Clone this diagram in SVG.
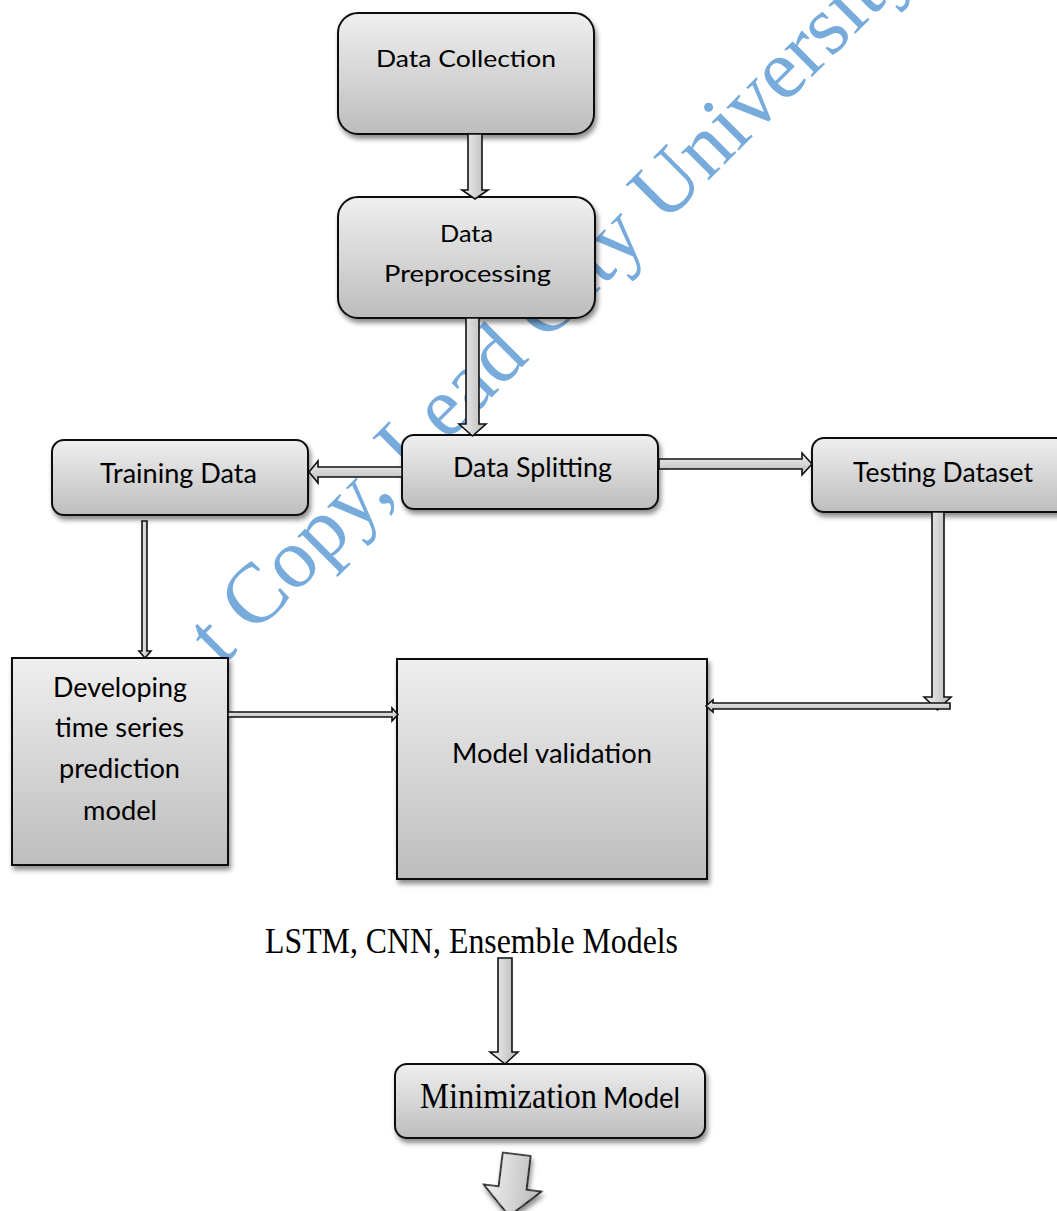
<svg xmlns="http://www.w3.org/2000/svg" width="1057" height="1211" viewBox="0 0 1057 1211">
<defs>
<linearGradient id="gBox" x1="0" y1="0" x2="0" y2="1">
<stop offset="0" stop-color="#efefef"/>
<stop offset="1" stop-color="#bdbdbd"/>
</linearGradient>
<linearGradient id="gArrV" x1="0" y1="0" x2="1" y2="0">
<stop offset="0" stop-color="#f2f2f2"/>
<stop offset="1" stop-color="#b8b8b8"/>
</linearGradient>
<linearGradient id="gArrH" x1="0" y1="0" x2="0" y2="1">
<stop offset="0" stop-color="#f2f2f2"/>
<stop offset="1" stop-color="#b8b8b8"/>
</linearGradient>
<filter id="shadow" x="-10%" y="-10%" width="130%" height="140%">
<feDropShadow dx="2" dy="4" stdDeviation="2.5" flood-color="#000" flood-opacity="0.45"/>
</filter>
</defs>
<style>
.box{fill:url(#gBox);stroke:#111;stroke-width:2;filter:url(#shadow)}
.lbl{font-family:Lato,"Open Sans",sans-serif;fill:#000}
.serif{font-family:"Liberation Serif","Times New Roman",serif;fill:#000}
.av{fill:url(#gArrV);stroke:#111;stroke-width:1.6;stroke-linejoin:miter}
.ah{fill:url(#gArrH);stroke:#111;stroke-width:1.6;stroke-linejoin:miter}
.wm{font-family:"Liberation Serif","Times New Roman",serif;fill:#77abdc}
</style>
<rect width="1057" height="1211" fill="#fff"/>
<text class="wm" font-size="85" transform="translate(222,667) rotate(-45)">t Copy, Lead City University</text>

<g id="node-data-collection">
<rect class="box" x="338" y="13" width="256" height="121" rx="20"/>
<text class="lbl" font-size="23" x="376" y="67" textLength="180" lengthAdjust="spacingAndGlyphs">Data Collection</text>
</g>
<g id="node-data-preprocessing">
<rect class="box" x="338" y="197" width="257" height="121" rx="20"/>
<text class="lbl" font-size="23" x="440" y="242" textLength="53" lengthAdjust="spacingAndGlyphs">Data</text>
<text class="lbl" font-size="23" x="384" y="282" textLength="167" lengthAdjust="spacingAndGlyphs">Preprocessing</text>
</g>
<g id="node-training-data">
<rect class="box" x="52" y="440" width="256" height="75" rx="12"/>
<text class="lbl" font-size="26" x="100" y="483" textLength="157" lengthAdjust="spacingAndGlyphs">Training Data</text>
</g>
<g id="node-data-splitting">
<rect class="box" x="402" y="435" width="256" height="74" rx="12"/>
<text class="lbl" font-size="26" x="453" y="477" textLength="159" lengthAdjust="spacingAndGlyphs">Data Splitting</text>
</g>
<g id="node-testing-dataset">
<rect class="box" x="812" y="438" width="260" height="74" rx="12"/>
<text class="lbl" font-size="26" x="853" y="482" textLength="180" lengthAdjust="spacingAndGlyphs">Testing Dataset</text>
</g>
<g id="node-developing-model">
<rect class="box" x="12" y="658" width="216" height="207"/>
<text class="lbl" font-size="26" x="53" y="697" textLength="134" lengthAdjust="spacingAndGlyphs">Developing</text>
<text class="lbl" font-size="26" x="55" y="737" textLength="129" lengthAdjust="spacingAndGlyphs">time series</text>
<text class="lbl" font-size="26" x="59" y="778" textLength="121" lengthAdjust="spacingAndGlyphs">prediction</text>
<text class="lbl" font-size="26" x="83" y="820" textLength="74" lengthAdjust="spacingAndGlyphs">model</text>
</g>
<g id="node-model-validation">
<rect class="box" x="397" y="659" width="310" height="220"/>
<text class="lbl" font-size="27" x="452" y="763" textLength="200" lengthAdjust="spacingAndGlyphs">Model validation</text>
</g>
<g id="node-lstm-label">
<text class="serif" font-size="35" x="265" y="953" textLength="413" lengthAdjust="spacingAndGlyphs">LSTM, CNN, Ensemble Models</text>
</g>
<g id="node-minimization-model">
<rect class="box" x="395" y="1064" width="310" height="74" rx="12"/>
<text font-size="35" y="1108"><tspan class="serif" x="420" textLength="177" lengthAdjust="spacingAndGlyphs">Minimization</tspan><tspan class="lbl" font-size="28" x="603" textLength="77" lengthAdjust="spacingAndGlyphs">Model</tspan></text>
</g>

<g id="connectors">
<polygon class="av" points="468,134 482,134 482,190 488,190 475,199 462,190 468,190"/>
<polygon class="av" points="466,318 479,318 479,424 486,424 472.5,436 459,424 466,424"/>
<polygon class="ah" points="402,467 318,467 318,461 309,472 318,483 318,477 402,477"/>
<polygon class="ah" points="659,459 802,459 802,453 812,464 802,475 802,469 659,469"/>
<polygon class="av" points="142,521 147,521 147,651 151,651 145,658 139,651 142,651"/>
<polygon class="ah" points="228,712 392,712 392,708 398,714.5 392,721 392,717 228,717"/>
<polygon class="av" points="932,512 944,512 944,697 951,697 937.5,710 924,697 932,697"/>
<polygon class="ah" points="950,703 713,703 713,700 706,706 713,712 713,709 950,709"/>
<polygon class="av" points="498,958 512,958 512,1052 518,1052 505,1064 490,1052 498,1052"/>
<polygon class="av" transform="translate(516.7,1154.3) rotate(7)" points="-14,0 14,0 14,34 29,34 0,62 -29,34 -14,34" filter="url(#shadow)"/>
</g>
</svg>
